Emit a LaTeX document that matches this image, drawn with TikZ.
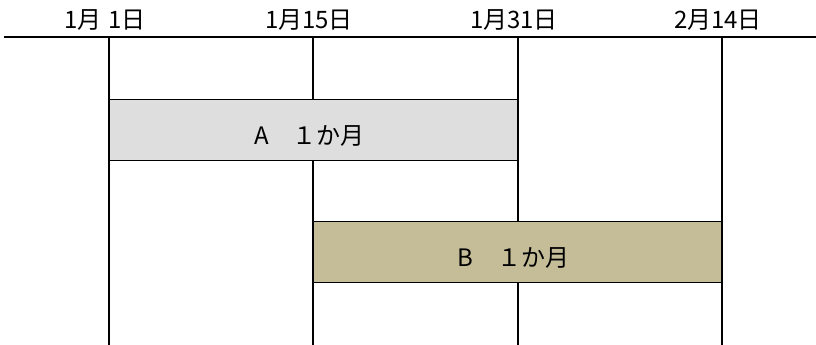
\documentclass[tikz,border=0pt]{standalone}
\usepackage{fontspec}
\newfontfamily\jp{Noto Sans CJK JP}
\usetikzlibrary{positioning}
\tikzset{
x=1pt, y=-1pt, % one unit is one pixel of the reference, y runs downward
every node/.style={font=\jp\fontsize{24}{24}\selectfont, inner sep=0pt},
date/.style={anchor=center}, % the date labels above the axis
period/.style={draw, line width=1.6pt, minimum height=61pt}, % the bars
tick/.style={line width=1.5pt},
}
\definecolor{barA}{HTML}{DEDEDE}
\definecolor{barB}{HTML}{C4BD97}

\begin{document}
\begin{tikzpicture}
            \useasboundingbox (0,0) rectangle (816,345);
            % time axis
            \coordinate (axisL) at (4,37);
            \coordinate (axisR) at (816,37);
            \draw[line width=2pt] (axisL) -- (axisR);
            % dates and their lines
            \foreach \x/\name/\txt in {109/d1/1月\hspace{0.3em}1日, 313/d2/1月15日, 518/d3/1月31日, 722/d4/2月14日}{
                \coordinate (\name top) at (\x,37);
                \coordinate (\name bot) at (\x,345);
                \node[date] (\name) at (\x-4,20) {\txt};
                \draw[tick] (\name top) -- (\name bot);
            }
            % the two periods
            \node[period, fill=barA, minimum width=409pt] (A) at (313.5,130) {};
            \node[period, fill=barB, minimum width=409pt] (B) at (517.5,252) {};
            \node (A text) at ([xshift=-4pt, yshift=-6pt]A.center) {A　１か月};
            \node (B text) at ([xshift=-4pt, yshift=-6pt]B.center) {B　１か月};
        \end{tikzpicture}
\end{document}
